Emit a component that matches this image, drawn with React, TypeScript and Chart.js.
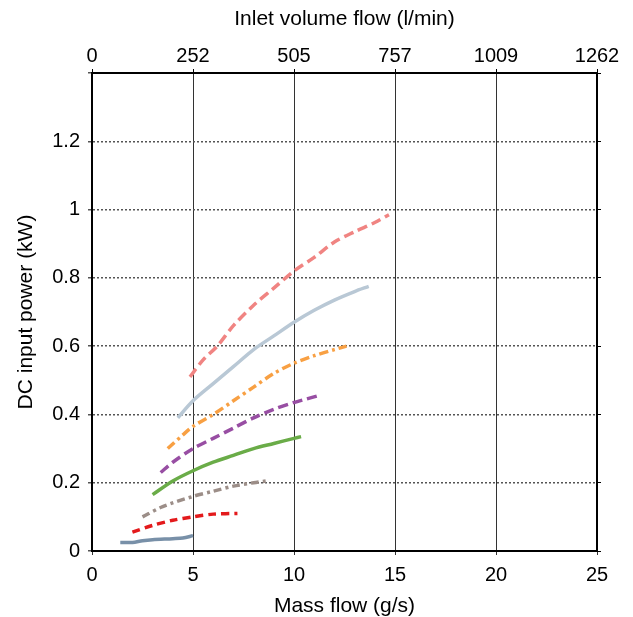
import React, { useEffect, useRef } from "react";
import { Chart, registerables } from "chart.js";

Chart.register(...registerables);

const bottomTickLabels = ["0", "5", "10", "15", "20", "25"];
const topTickLabels = ["0", "252", "505", "757", "1009", "1262"];
const yTickLabels = ["0", "0.2", "0.4", "0.6", "0.8", "1", "1.2", ""];

const s1x = [4.85, 5.5, 6.2, 7, 8, 9, 10, 11, 12, 13, 14, 14.7];
const s1y = [0.51, 0.56, 0.6, 0.66, 0.72, 0.77, 0.82, 0.86, 0.905, 0.935, 0.962, 0.985];
const s2x = [4.25, 5, 6, 7, 8, 9, 10, 11, 12, 13, 13.7];
const s2y = [0.39, 0.44, 0.49, 0.54, 0.59, 0.63, 0.67, 0.705, 0.735, 0.76, 0.775];
const s3x = [3.75, 4.5, 5, 6, 7, 8, 9, 10, 11, 12, 12.6];
const s3y = [0.3, 0.34, 0.365, 0.4, 0.44, 0.48, 0.52, 0.55, 0.572, 0.59, 0.6];
const s4x = [3.4, 4, 5, 6, 7, 8, 9, 10, 10.6, 11.2];
const s4y = [0.23, 0.26, 0.3, 0.33, 0.36, 0.39, 0.415, 0.435, 0.445, 0.455];
const s5x = [3, 4, 5, 6, 7, 8, 9, 10, 10.35];
const s5y = [0.165, 0.205, 0.235, 0.26, 0.28, 0.3, 0.315, 0.33, 0.335];
const s6x = [2.5, 3.5, 5, 6, 7, 8, 8.6];
const s6y = [0.1, 0.13, 0.16, 0.175, 0.19, 0.2, 0.205];
const s7x = [2, 3, 4, 5, 6, 7.2];
const s7y = [0.055, 0.075, 0.09, 0.1, 0.108, 0.11];
const s8x = [1.4, 2, 2.5, 3, 4, 4.5, 5];
const s8y = [0.025, 0.025, 0.03, 0.033, 0.036, 0.038, 0.045];

const pts = (xs: number[], ys: number[]) => xs.map((x, i) => ({ x, y: ys[i] }));

const FONT = "'Liberation Sans', Arial, sans-serif";
const TICK = 20;
const TITLE = 21;

export default function App() {
  const ref = useRef<HTMLCanvasElement>(null);
  useEffect(() => {
    if (!ref.current) return;
    const mk = (data: any, color: string, dash: number[]) => ({
      data,
      borderColor: color,
      backgroundColor: color,
      borderWidth: 3.5,
      borderDash: dash,
      pointRadius: 0,
      tension: 0.3,
      fill: false,
    });
    const chart = new Chart(ref.current, {
      type: "line",
      data: {
        datasets: [
          mk(pts(s1x, s1y), "#F08482", [10, 5]),
          mk(pts(s2x, s2y), "#B9C8D5", []),
          mk(pts(s3x, s3y), "#F8A043", [9, 4, 3, 4]),
          mk(pts(s4x, s4y), "#984EA3", [10, 5]),
          mk(pts(s5x, s5y), "#6AAC48", []),
          mk(pts(s6x, s6y), "#9C8E88", [8, 4, 3, 4]),
          mk(pts(s7x, s7y), "#E31A1C", [8, 5]),
          mk(pts(s8x, s8y), "#7890A8", []),
        ],
      },
      options: {
        animation: false,
        responsive: true,
        maintainAspectRatio: false,
        layout: { padding: 0 },
        plugins: { legend: { display: false }, tooltip: { enabled: false } },
        scales: {
          x: {
            type: "linear",
            position: "bottom",
            min: 0,
            max: 25,
            ticks: {
              stepSize: 5,
              color: "#000",
              font: { family: FONT, size: TICK },
              padding: 8,
              maxRotation: 0,
              callback: (v: any, i: number) => bottomTickLabels[i],
            },
            grid: { color: "#333", lineWidth: 1, tickLength: 4 },
            border: { color: "#000", width: 2 },
            title: {
              display: true,
              text: "Mass flow (g/s)",
              color: "#000",
              font: { family: FONT, size: TITLE },
              padding: { top: 0, bottom: -2 },
            },
            afterFit: (s: any) => {
              s.height = 66;
            },
          },
          x2: {
            type: "linear",
            position: "top",
            min: 0,
            max: 25,
            ticks: {
              stepSize: 5,
              color: "#000",
              font: { family: FONT, size: TICK },
              padding: 1,
              maxRotation: 0,
              callback: (v: any, i: number) => topTickLabels[i],
            },
            grid: { drawOnChartArea: false, color: "#000", tickLength: 4 },
            border: { color: "#000", width: 2 },
            title: {
              display: true,
              text: "Inlet volume flow (l/min)",
              color: "#000",
              font: { family: FONT, size: TITLE },
              padding: { top: 7, bottom: 0 },
            },
            afterFit: (s: any) => {
              s.height = 73;
            },
          },
          y: {
            type: "linear",
            position: "left",
            min: 0,
            max: 1.4,
            ticks: {
              stepSize: 0.2,
              color: "#000",
              font: { family: FONT, size: TICK },
              padding: 8,
              callback: (v: any, i: number) => yTickLabels[i],
            },
            grid: { color: "#555", lineWidth: 1.5, tickLength: 4 },
            border: { color: "#000", width: 2, dash: [2, 2] },
            title: {
              display: true,
              text: "DC input power (kW)",
              color: "#000",
              font: { family: FONT, size: TITLE },
              padding: { top: 14, bottom: 0 },
            },
            afterFit: (s: any) => {
              s.width = 92;
            },
          },
          y2: {
            type: "linear",
            position: "right",
            min: 0,
            max: 1.4,
            ticks: { stepSize: 0.2, display: false },
            grid: { drawOnChartArea: false, color: "#000", tickLength: 4 },
            border: { color: "#000", width: 2 },
            afterFit: (s: any) => {
              s.width = 36;
            },
          },
        },
      },
    });
    return () => chart.destroy();
  }, []);
  return (
    <div style={{ position: "fixed", left: 0, top: 0, width: 633, height: 617, background: "#fff" }}>
      <canvas ref={ref} />
    </div>
  );
}
